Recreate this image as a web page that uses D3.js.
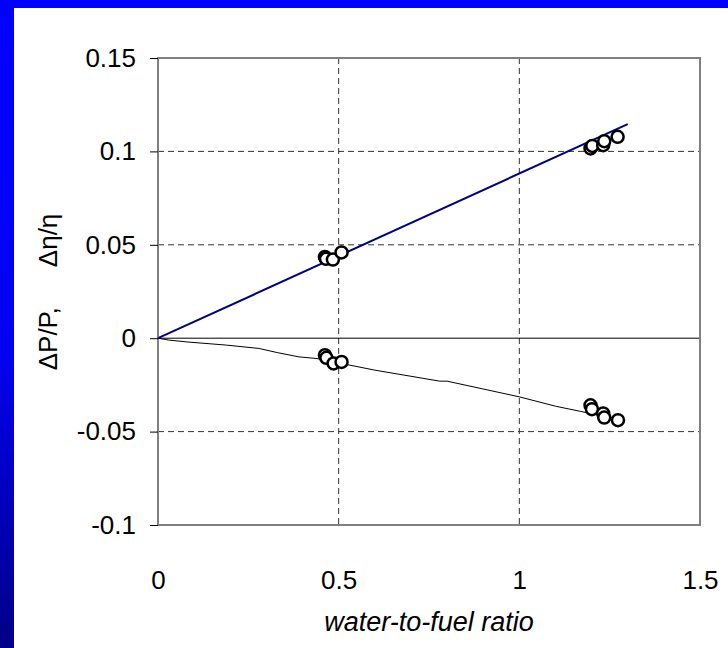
<!DOCTYPE html>
<html>
<head>
<meta charset="utf-8">
<script src="https://cdn.jsdelivr.net/npm/d3@7"></script>
<style>
  body { margin:0; background:#fff; }
  text { font-family: "Liberation Sans", Arial, sans-serif; }
</style>
</head>
<body>
<svg id="chart" width="728" height="648"></svg>
<script>
// data
var xTicks = [0, 0.5, 1, 1.5];
var yTicks = [-0.1, -0.05, 0, 0.05, 0.1, 0.15];
var xTickLabels = ["0", "0.5", "1", "1.5"];
var yTickLabels = ["-0.1", "-0.05", "0", "0.05", "0.1", "0.15"];

// efficiency fit (blue) and power fit (black)
var effLineX = [0, 1.3];
var effLineY = [0, 0.1146];
var powLineX = [0, 0.03, 0.08, 0.19, 0.28, 0.33, 0.39, 0.44, 0.6, 0.78, 0.8, 1.0, 1.1, 1.17, 1.28];
var powLineY = [0, -0.001, -0.002, -0.0037, -0.0055, -0.0077, -0.01, -0.0109, -0.0171, -0.023, -0.023, -0.0314, -0.0364, -0.0392, -0.0437];

// measured points
var effPtsX = [0.462, 0.465, 0.484, 0.508, 1.197, 1.202, 1.232, 1.235, 1.272];
var effPtsY = [0.0435, 0.0425, 0.0421, 0.0459, 0.1016, 0.1029, 0.1033, 0.1055, 0.1078];
var powPtsX = [0.462, 0.466, 0.486, 0.508, 1.197, 1.201, 1.232, 1.235, 1.273];
var powPtsY = [-0.0091, -0.0105, -0.0135, -0.0127, -0.0359, -0.038, -0.0403, -0.0425, -0.0439];

var svg = d3.select('#chart');

// blue slide frame
var defs = svg.append('defs');
var grad = defs.append('linearGradient').attr('id', 'frameGrad')
  .attr('x1', '0%').attr('y1', '0%').attr('x2', '0%').attr('y2', '100%');
grad.append('stop').attr('offset', '0%').attr('stop-color', '#0000ff');
grad.append('stop').attr('offset', '55%').attr('stop-color', '#0000f0');
grad.append('stop').attr('offset', '100%').attr('stop-color', '#000088');
svg.append('rect').attr('x', 0).attr('y', 0).attr('width', 728).attr('height', 8).attr('fill', '#0000ff');
svg.append('rect').attr('x', 0).attr('y', 0).attr('width', 14).attr('height', 648).attr('fill', 'url(#frameGrad)');

var pLeft = 158, pRight = 700, pTop = 58, pBottom = 525;
var x = d3.scaleLinear().domain([0, 1.5]).range([pLeft, pRight]);
var y = d3.scaleLinear().domain([-0.1, 0.15]).range([pBottom, pTop]);

// dashed grid
var grid = svg.append('g');
grid.selectAll('.gx').data(xTicks.filter(function(d){ return d > 0 && d < 1.5; }))
  .enter().append('line')
  .attr('x1', function(d){ return x(d); }).attr('x2', function(d){ return x(d); })
  .attr('y1', pTop).attr('y2', pBottom)
  .attr('stroke', '#333').attr('stroke-width', 1).attr('stroke-dasharray', '6,4');
grid.selectAll('.gy').data(yTicks.filter(function(d){ return d !== 0 && d > -0.1 && d < 0.15; }))
  .enter().append('line')
  .attr('x1', pLeft).attr('x2', pRight)
  .attr('y1', function(d){ return y(d); }).attr('y2', function(d){ return y(d); })
  .attr('stroke', '#333').attr('stroke-width', 1).attr('stroke-dasharray', '6,4');

// zero line
svg.append('line').attr('x1', pLeft).attr('x2', pRight)
  .attr('y1', y(0)).attr('y2', y(0)).attr('stroke', '#000').attr('stroke-width', 1);

// plot border
svg.append('rect').attr('x', pLeft).attr('y', pTop)
  .attr('width', pRight - pLeft).attr('height', pBottom - pTop)
  .attr('fill', 'none').attr('stroke', '#808080').attr('stroke-width', 2);

// y axis
var yAxis = svg.append('g').attr('transform', 'translate(' + pLeft + ',0)')
  .call(d3.axisLeft(y).tickValues(yTicks).tickSize(8).tickPadding(14)
    .tickFormat(function(d, i){ return yTickLabels[i]; }));
yAxis.select('.domain').remove();
yAxis.selectAll('line').attr('stroke', '#000');
yAxis.selectAll('text').attr('font-size', 26).attr('fill', '#000')
  .attr('font-family', '"Liberation Sans", Arial, sans-serif').attr('dy', '0.32em');

// x axis
var xAxis = svg.append('g').attr('transform', 'translate(0,' + pBottom + ')')
  .call(d3.axisBottom(x).tickValues(xTicks).tickSize(0).tickPadding(46)
    .tickFormat(function(d, i){ return xTickLabels[i]; }));
xAxis.select('.domain').remove();
xAxis.selectAll('text').attr('font-size', 26).attr('fill', '#000')
  .attr('font-family', '"Liberation Sans", Arial, sans-serif');

// axis titles
svg.append('text').attr('x', (pLeft + pRight) / 2).attr('y', 631)
  .attr('text-anchor', 'middle').attr('font-size', 27).attr('font-style', 'italic')
  .text('water-to-fuel ratio');
var yt = svg.append('text').attr('transform', 'translate(57,292) rotate(-90)')
  .attr('text-anchor', 'middle').attr('font-size', 26);
yt.append('tspan').text('ΔP/P,');
yt.append('tspan').attr('dx', 40).text('Δη/η');

// fit lines
var line = d3.line().x(function(d){ return x(d[0]); }).y(function(d){ return y(d[1]); });
svg.append('path').attr('d', line(d3.zip(powLineX, powLineY)))
  .attr('fill', 'none').attr('stroke', '#000').attr('stroke-width', 1);
svg.append('path').attr('d', line(d3.zip(effLineX, effLineY)))
  .attr('fill', 'none').attr('stroke', '#000080').attr('stroke-width', 2);

// markers
function dots(xs, ys) {
  svg.append('g').selectAll('circle').data(d3.zip(xs, ys)).enter().append('circle')
    .attr('cx', function(d){ return x(d[0]); }).attr('cy', function(d){ return y(d[1]); })
    .attr('r', 6).attr('fill', '#fff').attr('stroke', '#000').attr('stroke-width', 2.5);
}
dots(powPtsX, powPtsY);
dots(effPtsX, effPtsY);
</script>
</body>
</html>
